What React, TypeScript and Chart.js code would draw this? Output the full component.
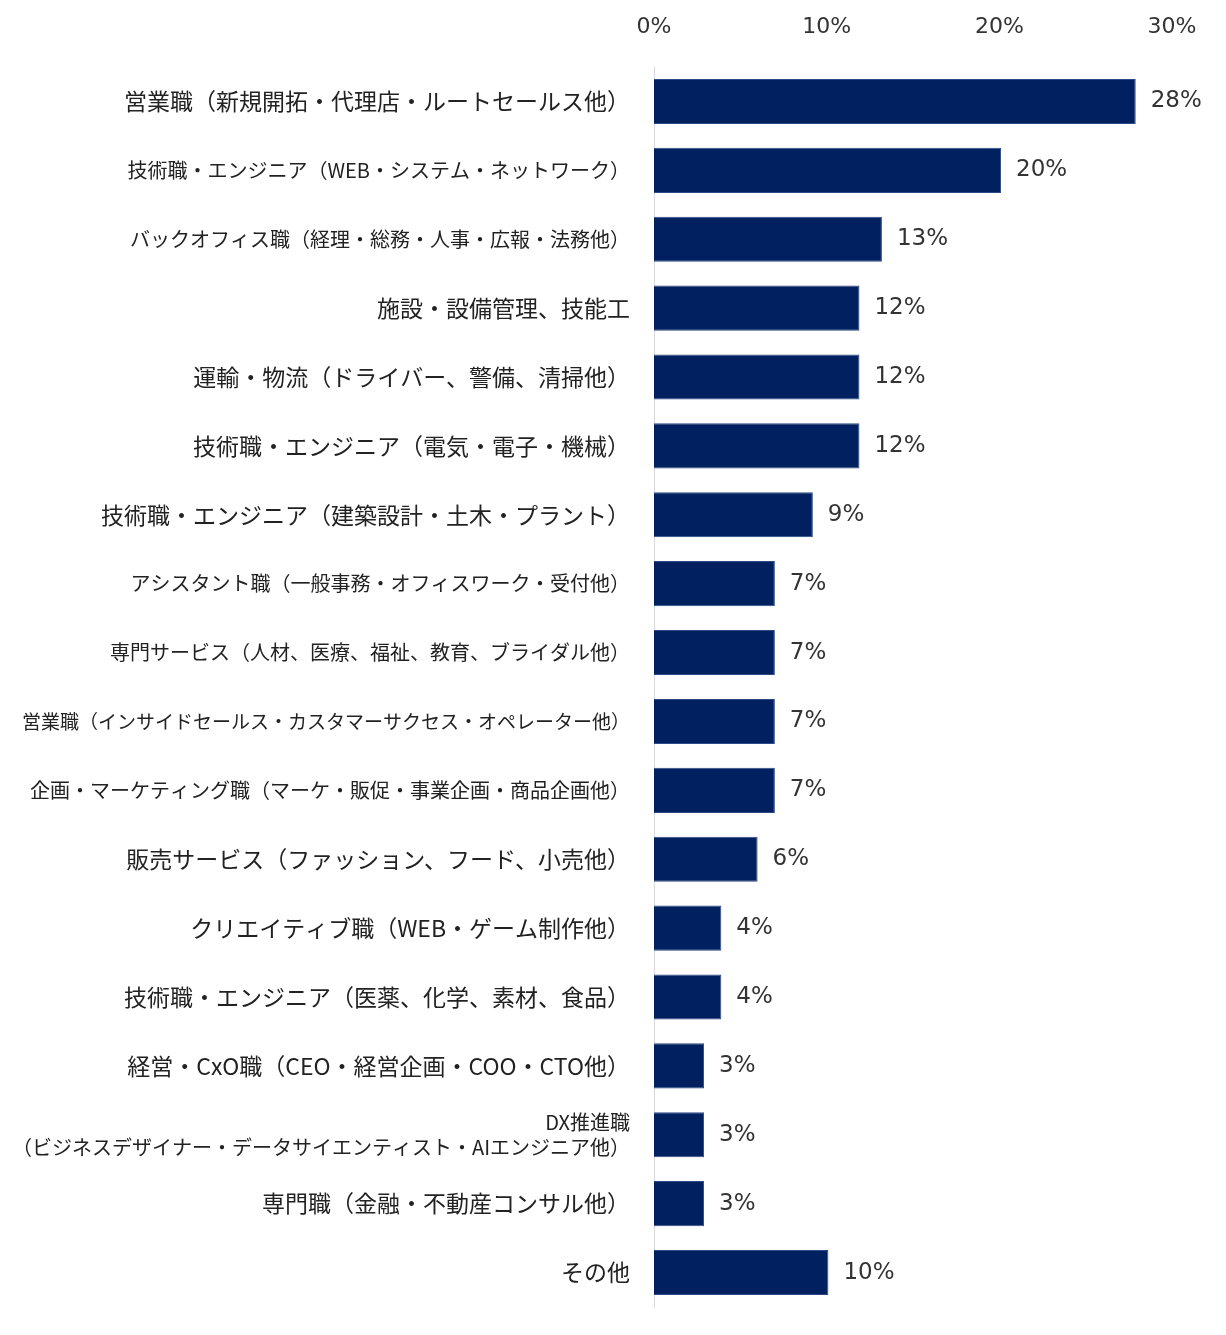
import { useEffect, useRef } from 'react';
import { Chart, registerables } from 'chart.js';

Chart.register(...registerables);

const categories: (string | string[])[] = [
  '営業職（新規開拓・代理店・ルートセールス他）',
  '技術職・エンジニア（WEB・システム・ネットワーク）',
  'バックオフィス職（経理・総務・人事・広報・法務他）',
  '施設・設備管理、技能工',
  '運輸・物流（ドライバー、警備、清掃他）',
  '技術職・エンジニア（電気・電子・機械）',
  '技術職・エンジニア（建築設計・土木・プラント）',
  'アシスタント職（一般事務・オフィスワーク・受付他）',
  '専門サービス（人材、医療、福祉、教育、ブライダル他）',
  '営業職（インサイドセールス・カスタマーサクセス・オペレーター他）',
  '企画・マーケティング職（マーケ・販促・事業企画・商品企画他）',
  '販売サービス（ファッション、フード、小売他）',
  'クリエイティブ職（WEB・ゲーム制作他）',
  '技術職・エンジニア（医薬、化学、素材、食品）',
  '経営・CxO職（CEO・経営企画・COO・CTO他）',
  ['DX推進職', '（ビジネスデザイナー・データサイエンティスト・AIエンジニア他）'],
  '専門職（金融・不動産コンサル他）',
  'その他',
];

const shares = [27.9, 20.1, 13.2, 11.9, 11.9, 11.9, 9.2, 7.0, 7.0, 7.0, 7.0, 6.0, 3.9, 3.9, 2.9, 2.9, 2.9, 10.1];

const xTicks = [0, 10, 20, 30];

// rows the original sets in a narrower face -> smaller size here
const narrowRows = [1, 2, 7, 8, 10, 15];
const narrowestRows = [9];

const valueLabels = {
  id: 'valueLabels',
  afterDatasetsDraw(chart: Chart) {
    const { ctx } = chart;
    const meta = chart.getDatasetMeta(0);
    ctx.save();
    ctx.font = '23px "DejaVu Sans", Verdana, sans-serif';
    ctx.fillStyle = '#333333';
    ctx.textAlign = 'left';
    ctx.textBaseline = 'middle';
    meta.data.forEach((bar: any, i: number) => {
      ctx.fillText(Math.round(shares[i]) + '%', bar.x + 15, bar.y);
    });
    ctx.restore();
  },
};

export default function App() {
  const canvasRef = useRef<HTMLCanvasElement | null>(null);

  useEffect(() => {
    document.body.style.margin = '0';
    if (!canvasRef.current) {
      return;
    }

    const chart = new Chart(canvasRef.current, {
      type: 'bar',
      data: {
        labels: categories,
        datasets: [
          {
            data: shares,
            backgroundColor: '#002060',
            borderColor: '#2c4a86',
            borderWidth: 1,
            barPercentage: 0.655,
            categoryPercentage: 1,
          },
        ],
      },
      options: {
        indexAxis: 'y',
        animation: false,
        responsive: false,
        maintainAspectRatio: false,
        layout: { padding: { top: 14, right: 54, bottom: 28, left: 0 } },
        plugins: {
          legend: { display: false },
          tooltip: { enabled: false },
        },
        scales: {
          x: {
            position: 'top',
            min: 0,
            max: 30,
            afterBuildTicks: (scale: any) => {
              scale.ticks = xTicks.map((v) => ({ value: v }));
            },
            afterFit: (scale: any) => {
              scale.height = 53;
            },
            grid: { display: false, drawTicks: false },
            border: { display: false },
            ticks: {
              padding: 27,
              color: '#333333',
              font: { family: '"DejaVu Sans", Verdana, sans-serif', size: 22 },
              callback: (v: any) => v + '%',
            },
          },
          y: {
            afterFit: (scale: any) => {
              scale.width = 654;
              scale.paddingTop = 0;
              scale.paddingBottom = 0;
            },
            grid: { display: false, drawTicks: false },
            border: { display: true, color: '#d9d9d9', width: 1 },
            ticks: {
              padding: 24,
              autoSkip: false,
              color: '#222222',
              font: (c: any) => ({
                family: '"Noto Sans CJK JP", sans-serif',
                size: narrowestRows.includes(c.index) ? 19 : narrowRows.includes(c.index) ? 20 : 23,
                lineHeight: 1.25,
              }),
            },
          },
        },
      },
      plugins: [valueLabels],
    });

    return () => {
      chart.destroy();
    };
  }, []);

  return (
    <div style={{ width: 1226, height: 1335, background: '#fff' }}>
      <canvas ref={canvasRef} width={1226} height={1335} style={{ width: 1226, height: 1335 }} />
    </div>
  );
}
